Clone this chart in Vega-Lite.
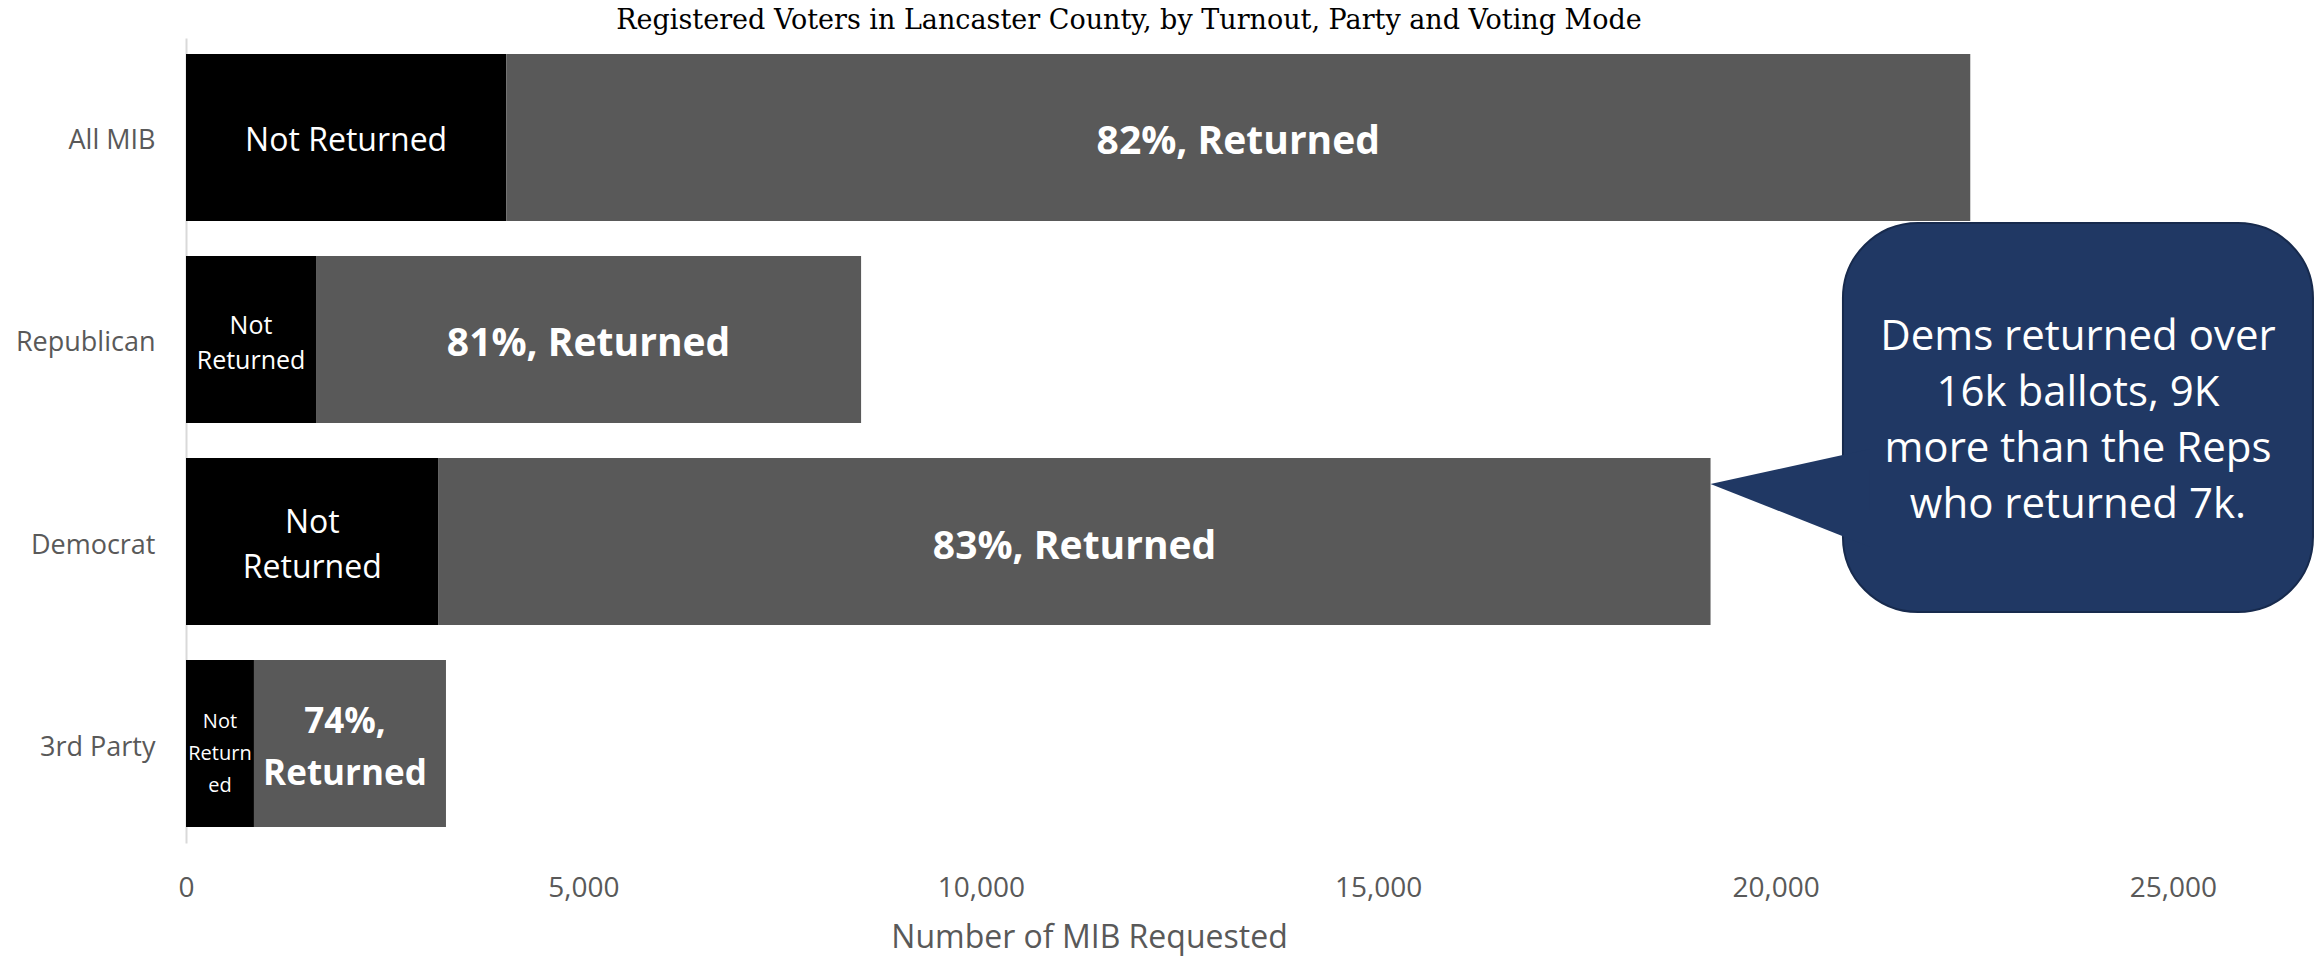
{
  "$schema": "https://vega.github.io/schema/vega-lite/v6.json",
  "width": 2130,
  "height": 805,
  "autosize": {"type": "none"},
  "padding": {"left": 186, "top": 38, "right": 0, "bottom": 114},
  "background": "#ffffff",
  "config": {"view": {"stroke": null}},
  "title": {
    "text": "Registered Voters in Lancaster County, by Turnout, Party and Voting Mode",
    "font": "DejaVu Serif",
    "fontSize": 27,
    "fontWeight": "normal",
    "color": "#000000",
    "anchor": "middle",
    "dx": -122,
    "dy": 30,
    "baseline": "alphabetic",
    "offset": 12
  },
  "datasets": {
    "mib": [
      {"party": "All MIB", "status": "Not Returned", "n": 4030, "label": "Not Returned"},
      {"party": "All MIB", "status": "Returned", "n": 18420, "label": "82%, Returned"},
      {"party": "Republican", "status": "Not Returned", "n": 1636, "label": "Not\nReturned"},
      {"party": "Republican", "status": "Returned", "n": 6858, "label": "81%, Returned"},
      {"party": "Democrat", "status": "Not Returned", "n": 3178, "label": "Not\nReturned"},
      {"party": "Democrat", "status": "Returned", "n": 16004, "label": "83%, Returned"},
      {"party": "3rd Party", "status": "Not Returned", "n": 855, "label": "Not\nReturn\ned"},
      {"party": "3rd Party", "status": "Returned", "n": 2416, "label": "74%,\nReturned"}
    ],
    "box": [
      {"x": 20848, "x2": 26762, "y": 0.919, "y2": 2.852}
    ],
    "pointer": [
      {"px": 19182, "py": 2.216, "py2": 2.216},
      {"px": 21188, "py": 2.042, "py2": 2.529}
    ],
    "note": [
      {"x": 23805, "y": 1.888, "text": "Dems returned over\n16k ballots, 9K\nmore than the Reps\nwho returned 7k."}
    ]
  },
  "resolve": {"scale": {"y": "independent"}, "axis": {"y": "independent"}},
  "layer": [
    {
      "data": {"name": "mib"},
      "encoding": {
        "y": {
          "field": "party",
          "type": "nominal",
          "sort": ["All MIB", "Republican", "Democrat", "3rd Party"],
          "scale": {"paddingInner": 0.173, "paddingOuter": 0.079},
          "title": null,
          "axis": {
            "domainColor": "#d9d9d9",
            "domainWidth": 2,
            "ticks": false,
            "grid": false,
            "labelPadding": 31,
            "labelOffset": 4,
            "labelFont": "Open Sans",
            "labelFontSize": 27,
            "labelColor": "#595959",
            "labelLimit": 0
          }
        }
      },
      "layer": [
        {
          "mark": {"type": "bar"},
          "encoding": {
            "x": {
              "field": "n",
              "type": "quantitative",
              "stack": "zero",
              "scale": {"domain": [0, 26800], "nice": false, "zero": true},
              "axis": {
                "values": [0, 5000, 10000, 15000, 20000, 25000],
                "format": ",.0f",
                "domain": false,
                "ticks": false,
                "grid": false,
                "labelFlush": false,
                "labelOverlap": false,
                "labelPadding": 53,
                "labelBaseline": "alphabetic",
                "labelFont": "Open Sans",
                "labelFontSize": 28,
                "labelColor": "#595959",
                "title": "Number of MIB Requested",
                "titleFont": "Open Sans",
                "titleFontSize": 32,
                "titleFontWeight": "normal",
                "titleColor": "#595959",
                "titleX": 903,
                "titleY": 104,
                "titleBaseline": "alphabetic"
              }
            },
            "color": {
              "field": "status",
              "type": "nominal",
              "scale": {"domain": ["Not Returned", "Returned"], "range": ["#000000", "#595959"]},
              "legend": null
            },
            "order": {"field": "status", "sort": "ascending"}
          }
        },
        {
          "transform": [
            {"stack": "n", "groupby": ["party"], "sort": [{"field": "status", "order": "ascending"}], "as": ["x0", "x1"]},
            {"filter": {"field": "party", "equal": "All MIB"}},
            {"filter": {"field": "status", "equal": "Not Returned"}},
            {"fold": ["x0", "x1"], "as": ["k", "xv"]}
          ],
          "mark": {"type": "text", "font": "Open Sans", "fontSize": 32, "color": "#ffffff", "align": "center", "baseline": "middle", "dy": 4},
          "encoding": {
            "x": {"aggregate": "mean", "field": "xv", "type": "quantitative"},
            "text": {"field": "label"}
          }
        },
        {
          "transform": [
            {"stack": "n", "groupby": ["party"], "sort": [{"field": "status", "order": "ascending"}], "as": ["x0", "x1"]},
            {"filter": {"field": "party", "equal": "Democrat"}},
            {"filter": {"field": "status", "equal": "Not Returned"}},
            {"fold": ["x0", "x1"], "as": ["k", "xv"]}
          ],
          "mark": {"type": "text", "font": "Open Sans", "fontSize": 32, "color": "#ffffff", "align": "center", "baseline": "middle", "lineBreak": "\n", "lineHeight": 45, "dy": -19},
          "encoding": {
            "x": {"aggregate": "mean", "field": "xv", "type": "quantitative"},
            "text": {"field": "label"}
          }
        },
        {
          "transform": [
            {"stack": "n", "groupby": ["party"], "sort": [{"field": "status", "order": "ascending"}], "as": ["x0", "x1"]},
            {"filter": {"field": "party", "equal": "Republican"}},
            {"filter": {"field": "status", "equal": "Not Returned"}},
            {"fold": ["x0", "x1"], "as": ["k", "xv"]}
          ],
          "mark": {"type": "text", "font": "Open Sans", "fontSize": 25, "color": "#ffffff", "align": "center", "baseline": "middle", "lineBreak": "\n", "lineHeight": 35, "dy": -13},
          "encoding": {
            "x": {"aggregate": "mean", "field": "xv", "type": "quantitative"},
            "text": {"field": "label"}
          }
        },
        {
          "transform": [
            {"stack": "n", "groupby": ["party"], "sort": [{"field": "status", "order": "ascending"}], "as": ["x0", "x1"]},
            {"filter": {"field": "party", "equal": "3rd Party"}},
            {"filter": {"field": "status", "equal": "Not Returned"}},
            {"fold": ["x0", "x1"], "as": ["k", "xv"]}
          ],
          "mark": {"type": "text", "font": "Open Sans", "fontSize": 20, "color": "#ffffff", "align": "center", "baseline": "middle", "lineBreak": "\n", "lineHeight": 32, "dy": -22},
          "encoding": {
            "x": {"aggregate": "mean", "field": "xv", "type": "quantitative"},
            "text": {"field": "label"}
          }
        },
        {
          "transform": [
            {"stack": "n", "groupby": ["party"], "sort": [{"field": "status", "order": "ascending"}], "as": ["x0", "x1"]},
            {"filter": {"field": "party", "oneOf": ["All MIB", "Republican", "Democrat"]}},
            {"filter": {"field": "status", "equal": "Returned"}},
            {"fold": ["x0", "x1"], "as": ["k", "xv"]}
          ],
          "mark": {"type": "text", "font": "Open Sans", "fontSize": 39, "fontWeight": "bold", "color": "#ffffff", "align": "center", "baseline": "middle", "dy": 5},
          "encoding": {
            "x": {"aggregate": "mean", "field": "xv", "type": "quantitative"},
            "text": {"field": "label"}
          }
        },
        {
          "transform": [
            {"stack": "n", "groupby": ["party"], "sort": [{"field": "status", "order": "ascending"}], "as": ["x0", "x1"]},
            {"filter": {"field": "party", "equal": "3rd Party"}},
            {"filter": {"field": "status", "equal": "Returned"}},
            {"fold": ["x0", "x1"], "as": ["k", "xv"]}
          ],
          "mark": {"type": "text", "font": "Open Sans", "fontSize": 35, "fontWeight": "bold", "color": "#ffffff", "align": "center", "baseline": "middle", "lineBreak": "\n", "lineHeight": 52, "dy": -22, "dx": -5},
          "encoding": {
            "x": {"aggregate": "mean", "field": "xv", "type": "quantitative"},
            "text": {"field": "label"}
          }
        }
      ]
    },
    {
      "layer": [
        {
          "data": {"name": "box"},
          "mark": {"type": "rect", "cornerRadius": 75, "fill": "#203864", "stroke": "#172a4d", "strokeWidth": 2},
          "encoding": {
            "x": {"field": "x", "type": "quantitative"},
            "x2": {"field": "x2"},
            "y": {"field": "y", "type": "quantitative", "scale": {"domain": [0, 4], "reverse": true, "nice": false, "zero": false}, "axis": null},
            "y2": {"field": "y2"}
          }
        },
        {
          "data": {"name": "pointer"},
          "mark": {"type": "area", "fill": "#203864", "interpolate": "linear", "orient": "vertical"},
          "encoding": {
            "x": {"field": "px", "type": "quantitative"},
            "y": {"field": "py", "type": "quantitative"},
            "y2": {"field": "py2"}
          }
        },
        {
          "data": {"name": "note"},
          "mark": {"type": "text", "font": "Open Sans", "fontSize": 42, "color": "#ffffff", "align": "center", "baseline": "middle", "lineBreak": "\n", "lineHeight": 56, "dy": -81},
          "encoding": {
            "x": {"field": "x", "type": "quantitative"},
            "y": {"field": "y", "type": "quantitative"},
            "text": {"field": "text"}
          }
        }
      ]
    }
  ]
}
